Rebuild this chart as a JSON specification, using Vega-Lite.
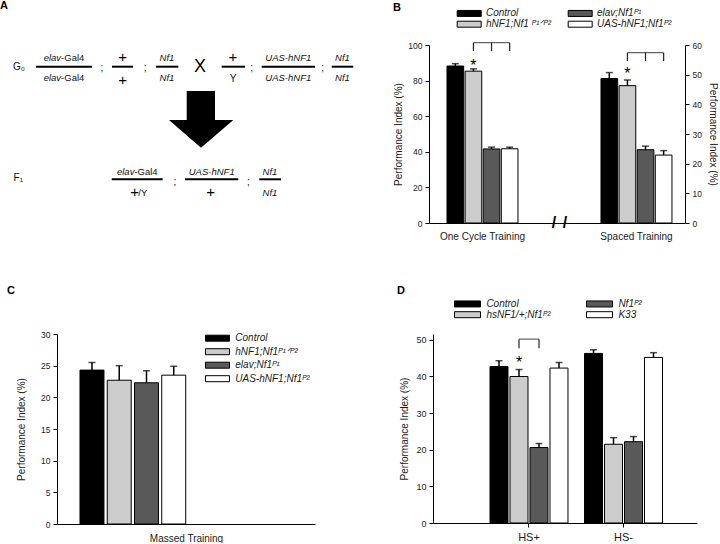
{
  "$schema": "https://vega.github.io/schema/vega-lite/v6.json",
  "padding": 0,
  "config": {
    "font": "Liberation Sans",
    "view": {"stroke": null},
    "axis": {"domainColor": "#000", "domainWidth": 1, "tickColor": "#000", "tickWidth": 1, "tickSize": 4, "labelColor": "#1a1a1a", "titleColor": "#1a1a1a", "labelFontSize": 8.5, "titleFontSize": 10, "titleFontWeight": "normal", "grid": false, "labelPadding": 3, "labelFont": "Liberation Sans", "titleFont": "Liberation Sans", "labelOverlap": false, "labelFlush": false},
    "legend": {"labelFont": "Liberation Sans", "labelColor": "#1a1a1a", "padding": 0},
    "title": {"fontSize": 11, "fontWeight": "bold", "anchor": "start", "frame": "group", "color": "#000", "font": "Liberation Sans"}
  },
  "datasets": {
    "A_lines": [
      {"x": 10.0, "x2": 25.56, "y": 26.35},
      {"x": 31.11, "x2": 36.94, "y": 26.35},
      {"x": 43.33, "x2": 49.53, "y": 26.35},
      {"x": 61.58, "x2": 68.06, "y": 26.35},
      {"x": 72.69, "x2": 87.5, "y": 26.35},
      {"x": 92.14, "x2": 98.14, "y": 26.35},
      {"x": 31.03, "x2": 45.19, "y": 82.65},
      {"x": 51.39, "x2": 66.19, "y": 82.65},
      {"x": 72.03, "x2": 78.06, "y": 82.65}
    ],
    "A_shaft": [{"x": 51.86, "x2": 59.72, "y": 38.5, "y2": 53.5}],
    "A_head": [
      {"x": 46.94, "y": 53, "y2": 53},
      {"x": 55.83, "y": 53, "y2": 66.85},
      {"x": 64.81, "y": 53, "y2": 53}
    ],
    "A_text": [
      {"label": "Nf1", "x": 46.39, "y": 22.15, "style": "ic"},
      {"label": "Nf1", "x": 46.39, "y": 32.15, "style": "ic"},
      {"label": "UAS-hNF1", "x": 80.08, "y": 22.15, "style": "ic"},
      {"label": "UAS-hNF1", "x": 80.08, "y": 32.15, "style": "ic"},
      {"label": "Nf1", "x": 95.14, "y": 22.15, "style": "ic"},
      {"label": "Nf1", "x": 95.14, "y": 32.15, "style": "ic"},
      {"label": "UAS-hNF1", "x": 58.81, "y": 78.85, "style": "ic"},
      {"label": "Nf1", "x": 75.0, "y": 78.85, "style": "ic"},
      {"label": "Nf1", "x": 75.0, "y": 89.65, "style": "ic"},
      {"label": "elav", "x": 16.97, "y": 22.15, "style": "ir"},
      {"label": "elav", "x": 16.97, "y": 32.15, "style": "ir"},
      {"label": "elav", "x": 37.33, "y": 78.85, "style": "ir"},
      {"label": "-Gal4", "x": 16.97, "y": 22.15, "style": "nl"},
      {"label": "-Gal4", "x": 16.97, "y": 32.15, "style": "nl"},
      {"label": "-Gal4", "x": 37.33, "y": 78.85, "style": "nl"},
      {"label": "/Y", "x": 38.42, "y": 89.65, "style": "nl"},
      {"label": ";", "x": 28.33, "y": 27.15, "style": "nc"},
      {"label": ";", "x": 40.28, "y": 27.15, "style": "nc"},
      {"label": ";", "x": 69.92, "y": 27.15, "style": "nc"},
      {"label": ";", "x": 89.64, "y": 27.15, "style": "nc"},
      {"label": ";", "x": 48.61, "y": 83.85, "style": "nc"},
      {"label": ";", "x": 68.97, "y": 83.85, "style": "nc"},
      {"label": "Y", "x": 64.72, "y": 32.65, "style": "nc"},
      {"label": "G₀", "x": 5.28, "y": 26.5, "style": "nc"},
      {"label": "F₁", "x": 5.08, "y": 82.15, "style": "nc"},
      {"label": "+", "x": 34.03, "y": 21.35, "style": "pl"},
      {"label": "+", "x": 34.03, "y": 33.0, "style": "pl"},
      {"label": "+", "x": 64.72, "y": 21.35, "style": "pl"},
      {"label": "+", "x": 58.53, "y": 88.85, "style": "pl"},
      {"label": "+", "x": 37.36, "y": 88.85, "style": "pl"},
      {"label": "X", "x": 55.56, "y": 26.35, "style": "big"}
    ],
    "B_oc": [
      {"training": "One Cycle Training", "genotype": "Control", "value": 88.2, "upper": 89.5},
      {"training": "One Cycle Training", "genotype": "hNF1;Nf1 ᴾ¹ᐟᴾ²", "value": 85.3, "upper": 86.6},
      {"training": "One Cycle Training", "genotype": "elav;Nf1ᴾ¹", "value": 41.6, "upper": 42.6},
      {"training": "One Cycle Training", "genotype": "UAS-hNF1;Nf1ᴾ²", "value": 41.7, "upper": 42.6}
    ],
    "B_sp": [
      {"training": "Spaced Training", "genotype": "Control", "value": 48.7, "upper": 50.7},
      {"training": "Spaced Training", "genotype": "hNF1;Nf1 ᴾ¹ᐟᴾ²", "value": 46.3, "upper": 48.2},
      {"training": "Spaced Training", "genotype": "elav;Nf1ᴾ¹", "value": 24.7, "upper": 25.9},
      {"training": "Spaced Training", "genotype": "UAS-hNF1;Nf1ᴾ²", "value": 22.9, "upper": 24.4}
    ],
    "B_oc_br": [
      {"training": "One Cycle Training", "genotype": "hNF1;Nf1 ᴾ¹ᐟᴾ²", "lo": 96.6, "hi": 101.3},
      {"training": "One Cycle Training", "genotype": "elav;Nf1ᴾ¹", "lo": 96.6, "hi": 101.3},
      {"training": "One Cycle Training", "genotype": "UAS-hNF1;Nf1ᴾ²", "lo": 96.6, "hi": 101.3}
    ],
    "B_sp_br": [
      {"training": "Spaced Training", "genotype": "hNF1;Nf1 ᴾ¹ᐟᴾ²", "lo": 54.6, "hi": 57.4},
      {"training": "Spaced Training", "genotype": "elav;Nf1ᴾ¹", "lo": 54.6, "hi": 57.4},
      {"training": "Spaced Training", "genotype": "UAS-hNF1;Nf1ᴾ²", "lo": 54.6, "hi": 57.4}
    ],
    "B_oc_star": [{"training": "One Cycle Training", "genotype": "hNF1;Nf1 ᴾ¹ᐟᴾ²", "y": 85.6}],
    "B_sp_star": [{"training": "Spaced Training", "genotype": "hNF1;Nf1 ᴾ¹ᐟᴾ²", "y": 48.4}],
    "C": [
      {"training": "Massed Training", "genotype": "Control", "value": 24.3, "upper": 25.5},
      {"training": "Massed Training", "genotype": "hNF1;Nf1ᴾ¹ᐟᴾ²", "value": 22.7, "upper": 25.0},
      {"training": "Massed Training", "genotype": "elav;Nf1ᴾ¹", "value": 22.3, "upper": 24.2},
      {"training": "Massed Training", "genotype": "UAS-hNF1;Nf1ᴾ²", "value": 23.5, "upper": 24.9}
    ],
    "D": [
      {"condition": "HS+", "genotype": "Control", "value": 42.7, "upper": 44.3},
      {"condition": "HS+", "genotype": "hsNF1/+;Nf1ᴾ²", "value": 40.0, "upper": 41.9},
      {"condition": "HS+", "genotype": "Nf1ᴾ²", "value": 20.6, "upper": 21.7},
      {"condition": "HS+", "genotype": "K33", "value": 42.3, "upper": 43.8},
      {"condition": "HS-", "genotype": "Control", "value": 46.3, "upper": 47.3},
      {"condition": "HS-", "genotype": "hsNF1/+;Nf1ᴾ²", "value": 21.5, "upper": 23.3},
      {"condition": "HS-", "genotype": "Nf1ᴾ²", "value": 22.2, "upper": 23.6},
      {"condition": "HS-", "genotype": "K33", "value": 45.2, "upper": 46.5}
    ],
    "D_br": [
      {"condition": "HS+", "genotype": "hsNF1/+;Nf1ᴾ²", "lo": 47.7, "hi": 50.2},
      {"condition": "HS+", "genotype": "Nf1ᴾ²", "lo": 47.7, "hi": 50.2}
    ],
    "D_star": [{"condition": "HS+", "genotype": "hsNF1/+;Nf1ᴾ²", "y": 42.2}]
  },
  "resolve": {"scale": {"color": "independent", "xOffset": "independent"}, "legend": {"color": "independent"}},
  "spacing": 43,
  "vconcat": [
    {
      "spacing": 10,
      "resolve": {"scale": {"color": "independent", "xOffset": "independent"}, "legend": {"color": "independent"}},
      "hconcat": [
        {
          "width": 326,
          "height": 178,
          "title": {"text": "A", "dx": -57, "offset": 34},
          "encoding": {
            "x": {"field": "x", "type": "quantitative", "scale": {"domain": [15.83, 106.39], "nice": false, "zero": false}, "axis": null},
            "y": {"field": "y", "type": "quantitative", "scale": {"domain": [15.5, 104.5], "nice": false, "zero": false, "reverse": true}, "axis": null}
          },
          "layer": [
            {"data": {"name": "A_lines"}, "mark": {"type": "rule", "strokeWidth": 2, "color": "#000"}, "encoding": {"x2": {"field": "x2"}}},
            {"data": {"name": "A_shaft"}, "mark": {"type": "rect", "color": "#000"}, "encoding": {"x2": {"field": "x2"}, "y2": {"field": "y2"}}},
            {"data": {"name": "A_head"}, "mark": {"type": "area", "color": "#000", "orient": "vertical"}, "encoding": {"y2": {"field": "y2"}}},
            {"data": {"name": "A_text"}, "transform": [{"filter": "datum.style == 'ic'"}], "mark": {"type": "text", "fontStyle": "italic", "fontSize": 9.5, "baseline": "middle", "align": "center", "color": "#111"}, "encoding": {"text": {"field": "label"}}},
            {"data": {"name": "A_text"}, "transform": [{"filter": "datum.style == 'ir'"}], "mark": {"type": "text", "fontStyle": "italic", "fontSize": 9.5, "baseline": "middle", "align": "right", "color": "#111"}, "encoding": {"text": {"field": "label"}}},
            {"data": {"name": "A_text"}, "transform": [{"filter": "datum.style == 'nl'"}], "mark": {"type": "text", "fontSize": 9.5, "baseline": "middle", "align": "left", "color": "#111"}, "encoding": {"text": {"field": "label"}}},
            {"data": {"name": "A_text"}, "transform": [{"filter": "datum.style == 'nc'"}], "mark": {"type": "text", "fontSize": 10, "baseline": "middle", "align": "center", "color": "#111"}, "encoding": {"text": {"field": "label"}}},
            {"data": {"name": "A_text"}, "transform": [{"filter": "datum.style == 'pl'"}], "mark": {"type": "text", "fontSize": 15, "baseline": "middle", "align": "center", "color": "#000"}, "encoding": {"text": {"field": "label"}}},
            {"data": {"name": "A_text"}, "transform": [{"filter": "datum.style == 'big'"}], "mark": {"type": "text", "fontSize": 18, "baseline": "middle", "align": "center", "color": "#000"}, "encoding": {"text": {"field": "label"}}}
          ]
        },
        {
          "width": 256,
          "height": 178,
          "title": {"text": "B", "dx": -36, "offset": -5},
          "encoding": {
            "x": {"field": "training", "type": "nominal", "scale": {"domain": ["One Cycle Training", "break", "Spaced Training"], "paddingInner": 0.078, "paddingOuter": 0.2015, "align": 0.58}, "axis": {"title": null, "ticks": false, "tickSize": 0, "labelAngle": 0, "labelFontSize": 10, "labelPadding": 8, "labelExpr": "datum.value == 'break' ? '' : datum.value"}}
          },
          "layer": [
            {
              "layer": [
                {"data": {"name": "B_oc"}, "mark": {"type": "bar", "stroke": "#000", "strokeWidth": 1},
                 "encoding": {
                   "xOffset": {"field": "genotype", "type": "nominal", "scale": {"domain": ["Control", "hNF1;Nf1 ᴾ¹ᐟᴾ²", "elav;Nf1ᴾ¹", "UAS-hNF1;Nf1ᴾ²"], "paddingInner": 0.08, "paddingOuter": 0}},
                   "y": {"field": "value", "type": "quantitative", "scale": {"domain": [0, 100], "nice": false}, "axis": {"title": "Performance Index (%)", "values": [0, 20, 40, 60, 80, 100], "tickCount": 20, "labelOverlap": false, "titlePadding": 4.5}},
                   "color": {"field": "genotype", "type": "nominal", "scale": {"domain": ["Control", "hNF1;Nf1 ᴾ¹ᐟᴾ²", "elav;Nf1ᴾ¹", "UAS-hNF1;Nf1ᴾ²"], "range": ["#000000", "#cccccc", "#595959", "#ffffff"]},
                     "legend": {"title": null, "orient": "none", "legendX": 34.7, "legendY": -37.3, "columns": 2, "columnPadding": 14, "rowPadding": 0, "labelOffset": 11.3, "symbolType": "M-2.4,-0.6H2.4V0.6H-2.4Z", "symbolSize": 100, "symbolStrokeColor": "#000", "symbolStrokeWidth": 1, "labelFontSize": 10, "labelFontStyle": "italic"}}
                 }},
                {"data": {"name": "B_oc"}, "mark": {"type": "rule", "strokeWidth": 1.5, "color": "#000"},
                 "encoding": {"xOffset": {"field": "genotype", "type": "nominal"}, "y": {"field": "value", "type": "quantitative", "title": "Performance Index (%)"}, "y2": {"field": "upper"}}},
                {"data": {"name": "B_oc"}, "mark": {"type": "tick", "size": 7, "thickness": 1.5, "color": "#000"},
                 "encoding": {"xOffset": {"field": "genotype", "type": "nominal"}, "y": {"field": "upper", "type": "quantitative", "title": "Performance Index (%)"}}},
                {"data": {"name": "B_oc_br"}, "mark": {"type": "rule", "strokeWidth": 1.2, "color": "#222"},
                 "encoding": {"xOffset": {"field": "genotype", "type": "nominal"}, "y": {"field": "lo", "type": "quantitative", "title": "Performance Index (%)"}, "y2": {"field": "hi"}}},
                {"data": {"name": "B_oc_br"}, "transform": [{"filter": "datum.genotype == 'elav;Nf1ᴾ¹'"}], "mark": {"type": "tick", "size": 36, "thickness": 1.2, "color": "#222"},
                 "encoding": {"xOffset": {"field": "genotype", "type": "nominal"}, "y": {"field": "hi", "type": "quantitative", "title": "Performance Index (%)"}}},
                {"data": {"name": "B_oc_star"}, "mark": {"type": "text", "text": "*", "fontSize": 16, "baseline": "alphabetic", "color": "#000"},
                 "encoding": {"xOffset": {"field": "genotype", "type": "nominal"}, "y": {"field": "y", "type": "quantitative", "title": "Performance Index (%)"}}},
                {"data": {"values": [{"mark": "break"}]}, "mark": {"type": "text", "text": "/", "fontSize": 16, "fontWeight": "bold", "dx": -5.5, "baseline": "middle", "color": "#000"},
                 "encoding": {"x": {"datum": "break"}, "y": {"datum": 0, "title": "Performance Index (%)"}}},
                {"data": {"values": [{"mark": "break"}]}, "mark": {"type": "text", "text": "/", "fontSize": 16, "fontWeight": "bold", "dx": 5.5, "baseline": "middle", "color": "#000"},
                 "encoding": {"x": {"datum": "break"}, "y": {"datum": 0, "title": "Performance Index (%)"}}}
              ]
            },
            {
              "layer": [
                {"data": {"name": "B_sp"}, "mark": {"type": "bar", "stroke": "#000", "strokeWidth": 1},
                 "encoding": {
                   "xOffset": {"field": "genotype", "type": "nominal"},
                   "y": {"field": "value", "type": "quantitative", "scale": {"domain": [0, 60], "nice": false}, "axis": {"orient": "right", "title": "Performance Index (%)", "values": [0, 10, 20, 30, 40, 50, 60], "tickCount": 20, "labelOverlap": false, "titlePadding": 6}},
                   "color": {"field": "genotype", "type": "nominal"}
                 }},
                {"data": {"name": "B_sp"}, "mark": {"type": "rule", "strokeWidth": 1.5, "color": "#000"},
                 "encoding": {"xOffset": {"field": "genotype", "type": "nominal"}, "y": {"field": "value", "type": "quantitative", "title": "Performance Index (%)"}, "y2": {"field": "upper"}}},
                {"data": {"name": "B_sp"}, "mark": {"type": "tick", "size": 7, "thickness": 1.5, "color": "#000"},
                 "encoding": {"xOffset": {"field": "genotype", "type": "nominal"}, "y": {"field": "upper", "type": "quantitative", "title": "Performance Index (%)"}}},
                {"data": {"name": "B_sp_br"}, "mark": {"type": "rule", "strokeWidth": 1.2, "color": "#222"},
                 "encoding": {"xOffset": {"field": "genotype", "type": "nominal"}, "y": {"field": "lo", "type": "quantitative", "title": "Performance Index (%)"}, "y2": {"field": "hi"}}},
                {"data": {"name": "B_sp_br"}, "transform": [{"filter": "datum.genotype == 'elav;Nf1ᴾ¹'"}], "mark": {"type": "tick", "size": 36, "thickness": 1.2, "color": "#222"},
                 "encoding": {"xOffset": {"field": "genotype", "type": "nominal"}, "y": {"field": "hi", "type": "quantitative", "title": "Performance Index (%)"}}},
                {"data": {"name": "B_sp_star"}, "mark": {"type": "text", "text": "*", "fontSize": 16, "baseline": "alphabetic", "color": "#000"},
                 "encoding": {"xOffset": {"field": "genotype", "type": "nominal"}, "y": {"field": "y", "type": "quantitative", "title": "Performance Index (%)"}}}
              ]
            }
          ],
          "resolve": {"scale": {"y": "independent"}}
        }
      ]
    },
    {
      "spacing": 82,
      "resolve": {"scale": {"color": "independent", "xOffset": "independent"}, "legend": {"color": "independent"}},
      "hconcat": [
        {
          "width": 258,
          "height": 190,
          "title": {"text": "C", "dx": -50, "offset": 34.5},
          "data": {"name": "C"},
          "encoding": {
            "x": {"field": "training", "type": "nominal", "scale": {"domain": ["Massed Training"], "paddingInner": 0, "paddingOuter": 0.72, "align": 0.151}, "axis": {"title": "Massed Training", "labels": false, "ticks": false, "tickSize": 0, "labelPadding": 0, "titlePadding": 9}},
            "xOffset": {"field": "genotype", "type": "nominal", "scale": {"domain": ["Control", "hNF1;Nf1ᴾ¹ᐟᴾ²", "elav;Nf1ᴾ¹", "UAS-hNF1;Nf1ᴾ²"], "paddingInner": 0.12, "paddingOuter": 0}}
          },
          "layer": [
            {"mark": {"type": "bar", "stroke": "#000", "strokeWidth": 1},
             "encoding": {
               "y": {"field": "value", "type": "quantitative", "scale": {"domain": [0, 30], "nice": false}, "axis": {"title": "Performance Index (%)", "values": [0, 5, 10, 15, 20, 25, 30], "tickCount": 20, "labelOverlap": false, "titlePadding": 14}},
               "color": {"field": "genotype", "type": "nominal", "scale": {"domain": ["Control", "hNF1;Nf1ᴾ¹ᐟᴾ²", "elav;Nf1ᴾ¹", "UAS-hNF1;Nf1ᴾ²"], "range": ["#000000", "#cccccc", "#595959", "#ffffff"]},
                 "legend": {"title": null, "orient": "none", "legendX": 155, "legendY": -1.3, "columns": 1, "rowPadding": 2.5, "labelOffset": 12.3, "symbolType": "M-2.4,-0.6H2.4V0.6H-2.4Z", "symbolSize": 100, "symbolStrokeColor": "#000", "symbolStrokeWidth": 1, "labelFontSize": 10, "labelFontStyle": "italic"}}
             }},
            {"mark": {"type": "rule", "strokeWidth": 1.5, "color": "#000"},
             "encoding": {"y": {"field": "value", "type": "quantitative", "title": "Performance Index (%)"}, "y2": {"field": "upper"}}},
            {"mark": {"type": "tick", "size": 7, "thickness": 1.5, "color": "#000"},
             "encoding": {"y": {"field": "upper", "type": "quantitative", "title": "Performance Index (%)"}}}
          ]
        },
        {
          "width": 264,
          "height": 189,
          "title": {"text": "D", "dx": -36, "offset": 2},
          "encoding": {
            "x": {"field": "condition", "type": "nominal", "scale": {"domain": ["HS+", "HS-"], "paddingInner": 0.175, "paddingOuter": 0.484, "align": 0.623}, "axis": {"title": null, "labelAngle": 0, "labelFontSize": 11, "labelPadding": 4}}
          },
          "layer": [
            {"data": {"name": "D"}, "mark": {"type": "bar", "stroke": "#000", "strokeWidth": 1},
             "encoding": {
               "xOffset": {"field": "genotype", "type": "nominal", "scale": {"domain": ["Control", "hsNF1/+;Nf1ᴾ²", "Nf1ᴾ²", "K33"], "paddingInner": 0.1, "paddingOuter": 0}},
               "y": {"field": "value", "type": "quantitative", "scale": {"domain": [0, 51.6], "nice": false}, "axis": {"title": "Performance Index (%)", "values": [0, 10, 20, 30, 40, 50], "tickCount": 20, "labelOverlap": false, "labelFontSize": 9, "titlePadding": 6}},
               "color": {"field": "genotype", "type": "nominal", "scale": {"domain": ["Control", "hsNF1/+;Nf1ᴾ²", "Nf1ᴾ²", "K33"], "range": ["#000000", "#cccccc", "#595959", "#ffffff"]},
                 "legend": {"title": null, "orient": "none", "legendX": 29, "legendY": -35.8, "columns": 2, "columnPadding": 33, "rowPadding": 0, "labelOffset": 13.4, "symbolType": "M-2.6,-0.6H2.6V0.6H-2.6Z", "symbolSize": 100, "symbolStrokeColor": "#000", "symbolStrokeWidth": 1, "labelFontSize": 10, "labelFontStyle": "italic"}}
             }},
            {"data": {"name": "D"}, "mark": {"type": "rule", "strokeWidth": 1.5, "color": "#000"},
             "encoding": {"xOffset": {"field": "genotype", "type": "nominal"}, "y": {"field": "value", "type": "quantitative", "title": "Performance Index (%)"}, "y2": {"field": "upper"}}},
            {"data": {"name": "D"}, "mark": {"type": "tick", "size": 7, "thickness": 1.5, "color": "#000"},
             "encoding": {"xOffset": {"field": "genotype", "type": "nominal"}, "y": {"field": "upper", "type": "quantitative", "title": "Performance Index (%)"}}},
            {"data": {"name": "D_br"}, "mark": {"type": "rule", "strokeWidth": 1.2, "color": "#222"},
             "encoding": {"xOffset": {"field": "genotype", "type": "nominal"}, "y": {"field": "lo", "type": "quantitative", "title": "Performance Index (%)"}, "y2": {"field": "hi"}}},
            {"data": {"name": "D_br"}, "transform": [{"filter": "datum.genotype == 'Nf1ᴾ²'"}], "mark": {"type": "tick", "size": 20, "thickness": 1.2, "color": "#222"},
             "encoding": {"y": {"field": "hi", "type": "quantitative", "title": "Performance Index (%)"}}},
            {"data": {"name": "D_star"}, "mark": {"type": "text", "text": "*", "fontSize": 16, "baseline": "alphabetic", "color": "#000"},
             "encoding": {"xOffset": {"field": "genotype", "type": "nominal"}, "y": {"field": "y", "type": "quantitative", "title": "Performance Index (%)"}}}
          ]
        }
      ]
    }
  ]
}
